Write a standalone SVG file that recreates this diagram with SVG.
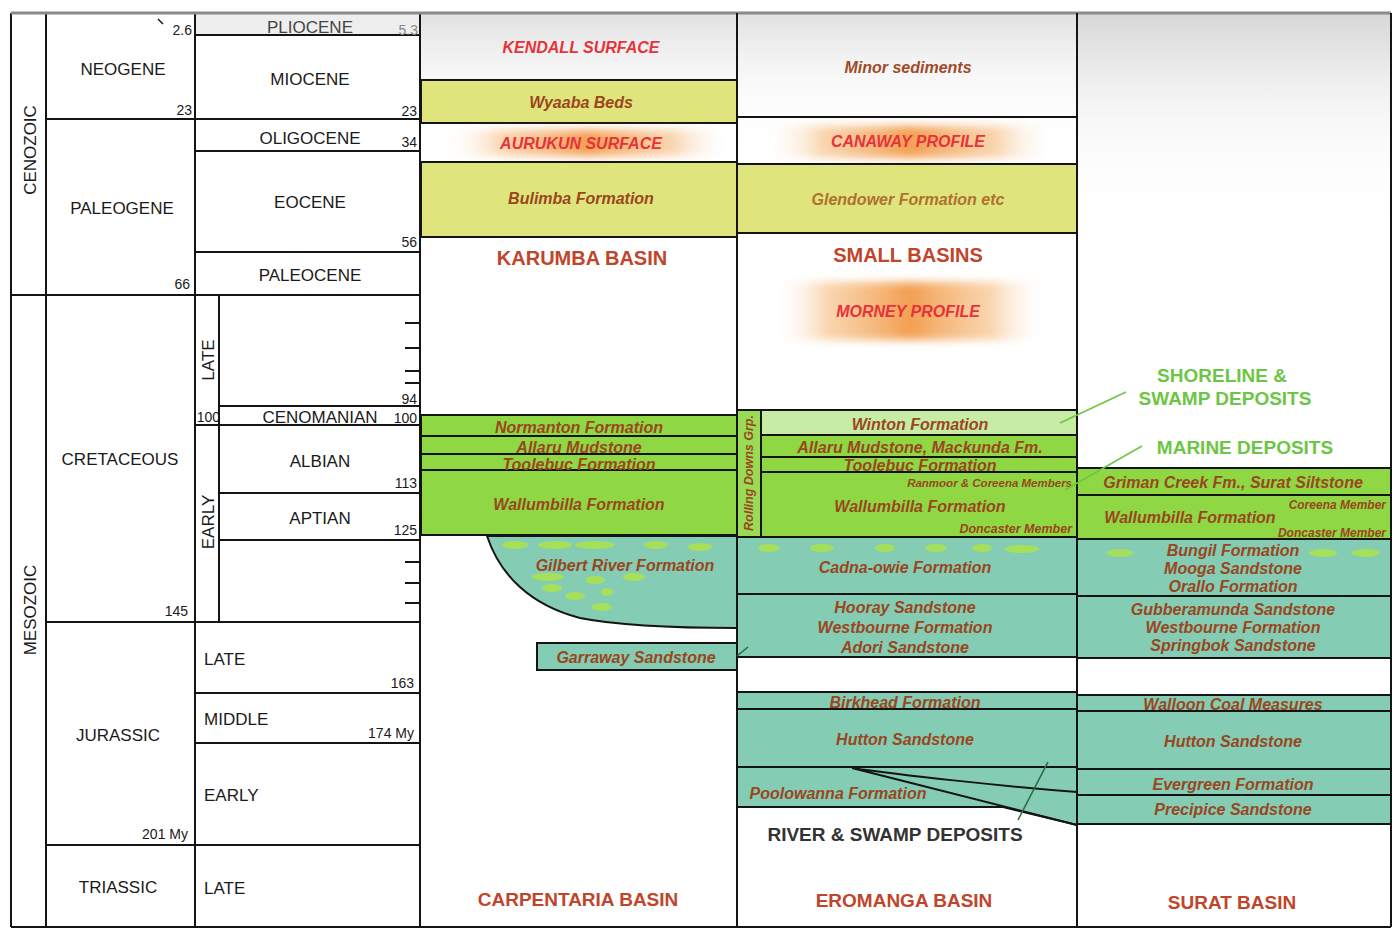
<svg xmlns="http://www.w3.org/2000/svg" width="1397" height="931" viewBox="0 0 1397 931">
<style>
.ln{stroke:#141414;stroke-width:2;fill:none}
.yel{fill:#dfe57c;stroke:#141414;stroke-width:2}
.grn{fill:#8fd843;stroke:#141414;stroke-width:2}
.lgr{fill:#c6eca6;stroke:#141414;stroke-width:2}
.teal{fill:#84ccb4;stroke:#141414;stroke-width:2}
.blob{fill:#a6e05a}
.t{font-family:"Liberation Sans",Arial,sans-serif;font-size:17px;fill:#1a1a1a;text-anchor:middle;dominant-baseline:central}
.tl{font-family:"Liberation Sans",Arial,sans-serif;font-size:17px;fill:#1a1a1a;text-anchor:start;dominant-baseline:central}
.n{font-family:"Liberation Sans",Arial,sans-serif;font-size:14px;fill:#1a1a1a;text-anchor:end;dominant-baseline:central}
.f{font-family:"Liberation Sans",Arial,sans-serif;font-size:16px;font-weight:bold;font-style:italic;fill:#9a4620;text-anchor:middle;dominant-baseline:central}
.fs{font-family:"Liberation Sans",Arial,sans-serif;font-size:11.5px;font-weight:bold;font-style:italic;fill:#9a4620;text-anchor:end;dominant-baseline:central}
.red{font-family:"Liberation Sans",Arial,sans-serif;font-size:16px;font-weight:bold;font-style:italic;fill:#e8323a;text-anchor:middle;dominant-baseline:central}
.basin{font-family:"Liberation Sans",Arial,sans-serif;font-size:19px;font-weight:bold;fill:#c0452b;text-anchor:middle;dominant-baseline:central}
.dep{font-family:"Liberation Sans",Arial,sans-serif;font-size:19px;font-weight:bold;fill:#6cc644;text-anchor:middle;dominant-baseline:central}
.lead{stroke:#6cc644;stroke-width:1.6;fill:none}
.dlead{stroke:#2d6a3e;stroke-width:1.6;fill:none}
.glow{filter:url(#soft)}
</style>
<defs>
<linearGradient id="orange" x1="0" y1="0" x2="1" y2="0">
<stop offset="0" stop-color="#ffffff" stop-opacity="0"/>
<stop offset="0.2" stop-color="#f7c48e" stop-opacity="0.7"/>
<stop offset="0.5" stop-color="#f29a48" stop-opacity="0.95"/>
<stop offset="0.8" stop-color="#f7c48e" stop-opacity="0.7"/>
<stop offset="1" stop-color="#ffffff" stop-opacity="0"/>
</linearGradient>
<filter id="soft" x="-10%" y="-40%" width="120%" height="180%">
<feGaussianBlur stdDeviation="4"/>
</filter>
<linearGradient id="topgrey" x1="0" y1="0" x2="0" y2="1">
<stop offset="0" stop-color="#d4d4d4" stop-opacity="0.7"/>
<stop offset="0.45" stop-color="#ececec" stop-opacity="0.4"/>
<stop offset="1" stop-color="#ffffff" stop-opacity="0"/>
</linearGradient>
</defs>
<rect x="0" y="0" width="1397" height="931" fill="#ffffff"/>
<rect x="421" y="14" width="970" height="140" fill="url(#topgrey)"/>
<rect x="1078" y="14" width="312" height="220" fill="url(#topgrey)"/>

<g id="timescale">
<rect x="196" y="14" width="224" height="21" fill="#eeeeee"/>
<path class="ln" d="M11,13V927M46,13V927M195,13V927M420,13V927M219,295V622M11,927H1391
M195,35H420M46,119H420M195,151H420M195,252H420M11,295H420M219,406H420M195,425H420M219,493H420M219,540H420M46,622H420M195,693H420M195,743H420M46,845H420
M405,323H420M405,348H420M405,371H420M405,383H420M405,562H420M405,583H420M405,603H420"/>
<path d="M11,13H1391" stroke="#8a8a8a" stroke-width="3"/>
<path d="M163,24L158,19" stroke="#1a1a1a" stroke-width="1.5"/>
<text class="t" transform="translate(30,150) rotate(-90)">CENOZOIC</text>
<text class="t" transform="translate(30,610) rotate(-90)">MESOZOIC</text>
<text class="t" x="123" y="69">NEOGENE</text>
<text class="n" x="192" y="30">2.6</text>
<text class="n" x="192" y="110">23</text>
<text class="t" x="310" y="27" style="fill:#444">PLIOCENE</text>
<text class="n" x="418" y="30" style="fill:#888">5.3</text>
<text class="t" x="310" y="79">MIOCENE</text>
<text class="n" x="417" y="111">23</text>
<text class="t" x="310" y="138">OLIGOCENE</text>
<text class="n" x="417" y="142">34</text>
<text class="t" x="122" y="208">PALEOGENE</text>
<text class="t" x="310" y="202">EOCENE</text>
<text class="n" x="417" y="242">56</text>
<text class="t" x="310" y="275">PALEOCENE</text>
<text class="n" x="190" y="284">66</text>
<text class="t" x="120" y="459">CRETACEOUS</text>
<text class="t" transform="translate(208,360) rotate(-90)">LATE</text>
<text class="t" transform="translate(208,522) rotate(-90)">EARLY</text>
<text class="n" x="417" y="399">94</text>
<text class="n" x="220" y="417">100</text>
<text class="t" x="320" y="417">CENOMANIAN</text>
<text class="n" x="417" y="418">100</text>
<text class="t" x="320" y="461">ALBIAN</text>
<text class="n" x="417" y="483">113</text>
<text class="t" x="320" y="518">APTIAN</text>
<text class="n" x="417" y="530">125</text>
<text class="n" x="188" y="611">145</text>
<text class="t" x="118" y="735">JURASSIC</text>
<text class="tl" x="204" y="659">LATE</text>
<text class="n" x="414" y="683">163</text>
<text class="tl" x="204" y="719">MIDDLE</text>
<text class="n" x="414" y="733">174 My</text>
<text class="tl" x="204" y="795">EARLY</text>
<text class="n" x="188" y="834">201 My</text>
<text class="t" x="118" y="887">TRIASSIC</text>
<text class="tl" x="204" y="888">LATE</text>
</g>

<g id="karumba-basin">
<rect class="yel" x="421" y="80" width="316" height="43"/>
<rect class="glow" x="445" y="130" width="285" height="26" fill="url(#orange)"/>
<rect class="yel" x="421" y="162" width="316" height="75"/>
<text class="red" x="581" y="47">KENDALL SURFACE</text>
<text class="f" x="581" y="102">Wyaaba Beds</text>
<text class="red" x="581" y="143">AURUKUN SURFACE</text>
<text class="f" x="581" y="198">Bulimba Formation</text>
<text class="basin" x="582" y="258" style="font-size:20px">KARUMBA BASIN</text>
</g>

<g id="small-basins">
<rect class="glow" x="765" y="126" width="290" height="32" fill="url(#orange)"/>
<rect class="yel" x="737" y="164" width="340" height="69"/>
<rect class="glow" x="772" y="282" width="275" height="58" fill="url(#orange)"/>
<path class="ln" d="M737,117H1077"/>
<text class="f" x="908" y="67" style="fill:#a04a2a">Minor sediments</text>
<text class="red" x="908" y="141">CANAWAY PROFILE</text>
<text class="f" x="908" y="199" style="fill:#b0702e">Glendower Formation etc</text>
<text class="basin" x="908" y="255" style="font-size:20px">SMALL BASINS</text>
<text class="red" x="908" y="311">MORNEY PROFILE</text>
</g>

<g id="carpentaria-basin">
<rect class="grn" x="421" y="415" width="316" height="120"/>
<path class="ln" d="M421,436H737M421,454H737M421,470H737"/>
<path class="teal" d="M487,536C500,575 530,605 580,618C620,626 680,628 737,628V536Z"/>
<g class="blob">
<ellipse cx="515" cy="545" rx="13" ry="4"/><ellipse cx="555" cy="545" rx="17" ry="4"/><ellipse cx="595" cy="545" rx="20" ry="4"/>
<ellipse cx="656" cy="545" rx="12" ry="4"/><ellipse cx="700" cy="547" rx="12" ry="4"/>
<ellipse cx="548" cy="577" rx="16" ry="4"/><ellipse cx="595" cy="580" rx="10" ry="4"/><ellipse cx="634" cy="577" rx="11" ry="4"/>
<ellipse cx="552" cy="588" rx="10" ry="4"/><ellipse cx="607" cy="592" rx="6" ry="4"/><ellipse cx="575" cy="596" rx="10" ry="4"/><ellipse cx="602" cy="607" rx="10" ry="4"/>
</g>
<rect class="teal" x="537" y="643" width="200" height="27"/>
<text class="f" x="579" y="427">Normanton Formation</text>
<text class="f" x="579" y="447">Allaru Mudstone</text>
<text class="f" x="579" y="464">Toolebuc Formation</text>
<text class="f" x="579" y="504">Wallumbilla Formation</text>
<text class="f" x="625" y="565">Gilbert River Formation</text>
<text class="f" x="636" y="657">Garraway Sandstone</text>
<text class="basin" x="578" y="899">CARPENTARIA BASIN</text>
</g>

<g id="eromanga-basin">
<rect class="grn" x="737" y="410" width="24" height="127" style="fill:#9adb56"/>
<rect class="lgr" x="761" y="410" width="316" height="25"/>
<rect class="grn" x="761" y="435" width="316" height="102"/>
<path class="ln" d="M761,457H1077M761,472H1077"/>
<rect class="teal" x="737" y="537" width="340" height="57"/>
<rect class="teal" x="737" y="594" width="340" height="63"/>
<g class="blob">
<ellipse cx="769" cy="548" rx="11" ry="4"/><ellipse cx="822" cy="548" rx="12" ry="4"/><ellipse cx="885" cy="548" rx="10" ry="4"/>
<ellipse cx="936" cy="548" rx="11" ry="4"/><ellipse cx="982" cy="548" rx="10" ry="4"/><ellipse cx="1022" cy="549" rx="17" ry="4"/>
</g>
<rect class="teal" x="737" y="692" width="340" height="17"/>
<rect class="teal" x="737" y="709" width="340" height="58"/>
<path class="teal" d="M737,767H1077V825L1003,807H737Z"/>
<path class="ln" d="M852,768L1077,825M852,768C900,775 1000,786 1077,792"/>
<text class="f" transform="translate(749,473) rotate(-90)" style="font-size:12.5px">Rolling Downs Grp.</text>
<text class="f" x="920" y="424">Winton Formation</text>
<text class="f" x="920" y="447">Allaru Mudstone, Mackunda Fm.</text>
<text class="f" x="920" y="465">Toolebuc Formation</text>
<text class="fs" x="1072" y="483">Ranmoor &amp; Coreena Members</text>
<text class="f" x="920" y="506">Wallumbilla Formation</text>
<text class="fs" x="1072" y="529" style="font-size:12.5px">Doncaster Member</text>
<text class="f" x="905" y="567">Cadna-owie Formation</text>
<text class="f" x="905" y="607">Hooray Sandstone</text>
<text class="f" x="905" y="627">Westbourne Formation</text>
<text class="f" x="905" y="647">Adori Sandstone</text>
<text class="f" x="905" y="702">Birkhead Formation</text>
<text class="f" x="905" y="739">Hutton Sandstone</text>
<text class="f" x="838" y="793">Poolowanna Formation</text>
<text class="basin" x="895" y="834" style="fill:#333333">RIVER &amp; SWAMP DEPOSITS</text>
<text class="basin" x="904" y="900">EROMANGA BASIN</text>
</g>

<g id="surat-basin">
<rect class="grn" x="1077" y="468" width="314" height="27"/>
<rect class="grn" x="1077" y="495" width="314" height="44"/>
<rect class="teal" x="1077" y="539" width="314" height="57"/>
<g class="blob">
<ellipse cx="1120" cy="553" rx="13" ry="4"/><ellipse cx="1323" cy="553" rx="14" ry="4"/><ellipse cx="1366" cy="553" rx="14" ry="4"/>
</g>
<rect class="teal" x="1077" y="596" width="314" height="62"/>
<rect class="teal" x="1077" y="695" width="314" height="16"/>
<rect class="teal" x="1077" y="711" width="314" height="58"/>
<rect class="teal" x="1077" y="769" width="314" height="26"/>
<rect class="teal" x="1077" y="795" width="314" height="29"/>
<text class="dep" x="1222" y="375">SHORELINE &amp;</text>
<text class="dep" x="1225" y="398">SWAMP DEPOSITS</text>
<text class="dep" x="1245" y="447">MARINE DEPOSITS</text>
<text class="f" x="1233" y="482">Griman Creek Fm., Surat Siltstone</text>
<text class="fs" x="1386" y="505" style="font-size:12px">Coreena Member</text>
<text class="f" x="1190" y="517">Wallumbilla Formation</text>
<text class="fs" x="1386" y="533" style="font-size:12px">Doncaster Member</text>
<text class="f" x="1233" y="550">Bungil Formation</text>
<text class="f" x="1233" y="568">Mooga Sandstone</text>
<text class="f" x="1233" y="586">Orallo Formation</text>
<text class="f" x="1233" y="609">Gubberamunda Sandstone</text>
<text class="f" x="1233" y="627">Westbourne Formation</text>
<text class="f" x="1233" y="645">Springbok Sandstone</text>
<text class="f" x="1233" y="704">Walloon Coal Measures</text>
<text class="f" x="1233" y="741">Hutton Sandstone</text>
<text class="f" x="1233" y="784">Evergreen Formation</text>
<text class="f" x="1233" y="809">Precipice Sandstone</text>
<text class="basin" x="1232" y="902">SURAT BASIN</text>
</g>

<g id="column-frame">
<path class="ln" d="M737,13V927M1077,13V927M1391,13V927"/>
</g>

<g id="connectors">
<path class="lead" d="M1126,392L1060,423"/>
<path class="lead" d="M1142,446L1065,490"/>
<path class="dlead" d="M1018,820L1048,762"/>
<path class="dlead" d="M737,656L748,647"/>
</g>
</svg>
